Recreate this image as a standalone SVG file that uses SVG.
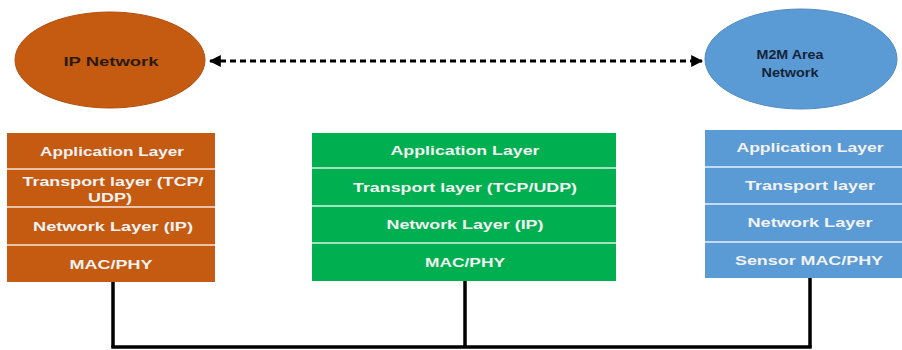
<svg xmlns="http://www.w3.org/2000/svg" width="902" height="350" viewBox="0 0 902 350">
<style>
  .ell-t { font-family: "Liberation Sans", Arial, sans-serif; font-weight: bold; font-size: 13.5px; text-anchor: middle; }
  .lay-t { font-family: "Liberation Sans", Arial, sans-serif; font-weight: bold; font-size: 13px; text-anchor: middle; fill: #F2F2F2; }
  .div { stroke: #FFFFFF; stroke-width: 1.5; opacity: 0.85; }
  .bus { stroke: #000000; stroke-width: 3.5; fill: none; }
</style>
<defs>
  <marker id="ah" viewBox="0 0 10 10" refX="9" refY="5" markerWidth="4" markerHeight="4" orient="auto-start-reverse" markerUnits="strokeWidth">
    <path d="M0,0 L10,5 L0,10 Z" fill="#000"/>
  </marker>
</defs>
<rect width="902" height="350" fill="#FFFFFF"/>

<g id="ip-network">
  <ellipse cx="110" cy="60" rx="95" ry="48" fill="#C55A11" stroke="#B04E0E" stroke-width="1"/>
  <text class="ell-t" x="111" y="66" fill="#2A1A10" textLength="95" lengthAdjust="spacingAndGlyphs">IP Network</text>
</g>

<g id="m2m-area-network">
  <ellipse cx="801" cy="59" rx="96" ry="50" fill="#5B9BD5" stroke="#4F8BC2" stroke-width="1"/>
  <text class="ell-t" x="790" y="59" fill="#15233A" textLength="67" lengthAdjust="spacingAndGlyphs">M2M Area</text>
  <text class="ell-t" x="790" y="77" fill="#15233A" textLength="57" lengthAdjust="spacingAndGlyphs">Network</text>
</g>

<g id="ip-stack">
  <rect x="7" y="133" width="208" height="149" fill="#C55A11"/>
  <line class="div" x1="7" y1="169" x2="215" y2="169"/>
  <line class="div" x1="7" y1="207" x2="215" y2="207"/>
  <line class="div" x1="7" y1="245" x2="215" y2="245"/>
  <text class="lay-t" x="112" y="156" textLength="144" lengthAdjust="spacingAndGlyphs">Application Layer</text>
  <text class="lay-t" x="113" y="186" textLength="181" lengthAdjust="spacingAndGlyphs">Transport layer (TCP/</text>
  <text class="lay-t" x="110" y="202" textLength="44" lengthAdjust="spacingAndGlyphs">UDP)</text>
  <text class="lay-t" x="113" y="231" textLength="160" lengthAdjust="spacingAndGlyphs">Network Layer (IP)</text>
  <text class="lay-t" x="111" y="269" textLength="83" lengthAdjust="spacingAndGlyphs">MAC/PHY</text>
</g>

<g id="gateway-stack">
  <rect x="312" y="133" width="304" height="148" fill="#00B050"/>
  <line class="div" x1="312" y1="168" x2="616" y2="168"/>
  <line class="div" x1="312" y1="206" x2="616" y2="206"/>
  <line class="div" x1="312" y1="243" x2="616" y2="243"/>
  <text class="lay-t" x="465" y="155" textLength="149" lengthAdjust="spacingAndGlyphs">Application Layer</text>
  <text class="lay-t" x="465" y="192" textLength="224" lengthAdjust="spacingAndGlyphs">Transport layer (TCP/UDP)</text>
  <text class="lay-t" x="465" y="229" textLength="157" lengthAdjust="spacingAndGlyphs">Network Layer (IP)</text>
  <text class="lay-t" x="465" y="267" textLength="80" lengthAdjust="spacingAndGlyphs">MAC/PHY</text>
</g>

<g id="m2m-stack">
  <rect x="705" y="130" width="200" height="148" fill="#5B9BD5"/>
  <line class="div" x1="705" y1="167" x2="905" y2="167"/>
  <line class="div" x1="705" y1="204" x2="905" y2="204"/>
  <line class="div" x1="705" y1="242" x2="905" y2="242"/>
  <text class="lay-t" x="810" y="152" textLength="147" lengthAdjust="spacingAndGlyphs">Application Layer</text>
  <text class="lay-t" x="810" y="190" textLength="130" lengthAdjust="spacingAndGlyphs">Transport layer</text>
  <text class="lay-t" x="810" y="227" textLength="125" lengthAdjust="spacingAndGlyphs">Network Layer</text>
  <text class="lay-t" x="809" y="265" textLength="148" lengthAdjust="spacingAndGlyphs">Sensor MAC/PHY</text>
</g>

<g id="connectors">
  <line x1="210" y1="61" x2="702" y2="61" stroke="#000" stroke-width="3" stroke-dasharray="6 4" marker-start="url(#ah)" marker-end="url(#ah)"/>
  <line class="bus" x1="113" y1="282" x2="113" y2="347"/>
  <line class="bus" x1="465" y1="281" x2="465" y2="347"/>
  <line class="bus" x1="810" y1="278" x2="810" y2="347"/>
  <line class="bus" x1="111.25" y1="347" x2="811.75" y2="347"/>
</g>
</svg>
